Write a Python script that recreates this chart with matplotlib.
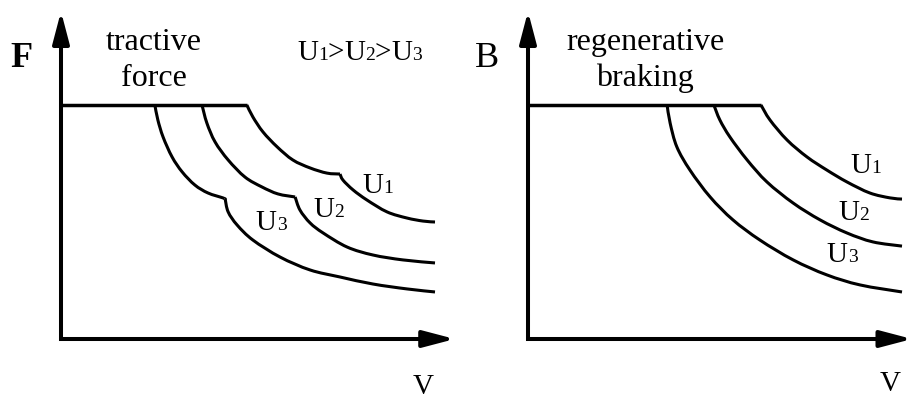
import matplotlib
matplotlib.use("Agg")
import matplotlib.pyplot as plt
import numpy as np
from matplotlib.path import Path
from matplotlib.patches import PathPatch

plt.rcParams['font.family'] = ['Liberation Serif', 'DejaVu Serif']

# tractive force characteristic (normalised v, F), kink where the field weakening starts
trac_u1_v = [0.497, 0.513, 0.540, 0.578, 0.620, 0.666, 0.711, 0.746,
             0.754, 0.781, 0.818, 0.872, 0.925, 0.968, 1.000]
trac_u1_f = [1.000, 0.949, 0.885, 0.821, 0.765, 0.731, 0.709, 0.705,
             0.679, 0.637, 0.594, 0.543, 0.517, 0.504, 0.500]
trac_u2_v = [0.377, 0.390, 0.412, 0.447, 0.492, 0.537, 0.580, 0.626,
             0.639, 0.666, 0.701, 0.765, 0.834, 0.914, 1.000]
trac_u2_f = [1.000, 0.923, 0.842, 0.765, 0.692, 0.650, 0.620, 0.607,
             0.551, 0.496, 0.453, 0.393, 0.359, 0.338, 0.325]
trac_u3_v = [0.251, 0.259, 0.273, 0.297, 0.324, 0.358, 0.393, 0.433, 0.439,
             0.447, 0.471, 0.513, 0.586, 0.666, 0.746, 0.834, 0.925, 1.000]
trac_u3_f = [1.000, 0.936, 0.863, 0.778, 0.714, 0.658, 0.624, 0.603, 0.598,
             0.543, 0.487, 0.423, 0.350, 0.295, 0.265, 0.235, 0.214, 0.201]
trac_kinks = [7, 7, 8]

# regenerative braking characteristic
brake_u1_v = [0.623, 0.647, 0.693, 0.746, 0.799, 0.853, 0.914, 0.968, 1.000]
brake_u1_f = [1.000, 0.936, 0.850, 0.778, 0.722, 0.671, 0.624, 0.603, 0.598]
brake_u2_v = [0.497, 0.513, 0.540, 0.586, 0.639, 0.709, 0.781, 0.853, 0.922, 1.000]
brake_u2_f = [1.000, 0.936, 0.863, 0.765, 0.671, 0.581, 0.509, 0.453, 0.415, 0.397]
brake_u3_v = [0.372, 0.380, 0.398, 0.433, 0.487, 0.548, 0.620, 0.709, 0.799, 0.888, 1.000]
brake_u3_f = [1.000, 0.923, 0.821, 0.722, 0.607, 0.509, 0.423, 0.338, 0.274, 0.231, 0.201]

curve_labels = ["U1", "U2", "U3"]
trac_label_pos = [(0.805, 0.624), (0.674, 0.521), (0.521, 0.466)]
brake_label_pos = [(0.861, 0.709), (0.829, 0.509), (0.799, 0.329)]

BIG = 21
SMALL = 14
LW_AX = 2.9
LW = 2.2


def smooth_path(v, f):
    # Catmull-Rom through the points, written as cubic Bezier segments
    p = np.column_stack([v, f])
    ext = np.vstack([p[0], p, p[-1]])
    verts = [p[0]]
    codes = [Path.MOVETO]
    for i in range(len(p) - 1):
        p0, p1, p2, p3 = ext[i], ext[i + 1], ext[i + 2], ext[i + 3]
        verts += [p1 + (p2 - p0) / 6, p2 - (p3 - p1) / 6, p2]
        codes += [Path.CURVE4] * 3
    return verts, codes


def draw_curve(ax, v, f, kink=None):
    pieces = [(v, f)] if kink is None else [(v[:kink + 1], f[:kink + 1]), (v[kink:], f[kink:])]
    for pv, pf in pieces:
        verts, codes = smooth_path(pv, pf)
        ax.add_patch(PathPatch(Path(verts, codes), fill=False, lw=LW, edgecolor='black',
                               joinstyle='round', capstyle='butt'))


def mixed_text(ax, x, y, text, renderer):
    # digits are set smaller but sit on the same baseline as the letters
    offset = 0.0
    for ch in text:
        size = SMALL if ch.isdigit() else BIG
        t = ax.annotate(ch, xy=(x, y), xycoords='data', xytext=(offset, 0),
                        textcoords='offset pixels', fontsize=size, va='baseline', ha='left')
        offset += t.get_window_extent(renderer).width


def draw_axes(ax, x_tip, y_tip):
    ax.plot([0, 0, x_tip - 0.05], [y_tip - 0.1, 0, 0], color='black', lw=LW_AX,
            solid_joinstyle='miter', solid_capstyle='butt')
    style = "-|>,head_length=1.6,head_width=0.42"
    ax.annotate("", xy=(0, y_tip), xytext=(0, y_tip - 0.14),
                arrowprops=dict(arrowstyle=style, lw=LW_AX, color='black',
                                shrinkA=0, shrinkB=0, mutation_scale=12))
    ax.annotate("", xy=(x_tip, 0), xytext=(x_tip - 0.09, 0),
                arrowprops=dict(arrowstyle=style, lw=LW_AX, color='black',
                                shrinkA=0, shrinkB=0, mutation_scale=12))


fig = plt.figure(figsize=(9.12, 3.99), dpi=100)
renderer = fig.canvas.get_renderer()

# left panel: origin at (61, 339) px, 374 px per unit v, 234 px per unit F
ax1 = fig.add_axes([0, 0, 456 / 912, 1])
ax1.set_xlim(-61 / 374, (456 - 61) / 374)
ax1.set_ylim((339 - 399) / 234, 339 / 234)
ax1.axis('off')

# right panel
ax2 = fig.add_axes([456 / 912, 0, 456 / 912, 1])
ax2.set_xlim((456 - 528) / 374, (912 - 528) / 374)
ax2.set_ylim((339 - 399) / 234, 339 / 234)
ax2.axis('off')

draw_axes(ax1, 1.053, 1.40)
draw_axes(ax2, 1.027, 1.40)

ax1.plot([0, trac_u1_v[0]], [1, 1], color='black', lw=LW + 0.3, solid_capstyle='butt')
for (v, f), k in zip([(trac_u1_v, trac_u1_f), (trac_u2_v, trac_u2_f), (trac_u3_v, trac_u3_f)],
                     trac_kinks):
    draw_curve(ax1, v, f, k)

ax2.plot([0, brake_u1_v[0]], [1, 1], color='black', lw=LW + 0.3, solid_capstyle='butt')
for v, f in [(brake_u1_v, brake_u1_f), (brake_u2_v, brake_u2_f), (brake_u3_v, brake_u3_f)]:
    draw_curve(ax2, v, f)

for name, (x, y) in zip(curve_labels, trac_label_pos):
    mixed_text(ax1, x, y, name, renderer)
for name, (x, y) in zip(curve_labels, brake_label_pos):
    mixed_text(ax2, x, y, name, renderer)

mixed_text(ax1, 0.631, 1.192, "U1>U2>U3", renderer)

ax1.text(-0.107, 1.197, "F", fontsize=26, fontweight='bold', ha='center', va='center')
ax1.text(0.249, 1.265, "tractive", fontsize=23, ha='center', va='center')
ax1.text(0.249, 1.115, "force", fontsize=23, ha='center', va='center')
ax1.text(0.968, -0.235, "V", fontsize=21, ha='center', va='baseline')

ax2.text(-0.110, 1.197, "B", fontsize=26, ha='center', va='center')
ax2.text(0.313, 1.265, "regenerative", fontsize=23, ha='center', va='center')
ax2.text(0.313, 1.115, "braking", fontsize=23, ha='center', va='center')
ax2.text(0.968, -0.222, "V", fontsize=21, ha='center', va='baseline')

fig.savefig("out.png", dpi=100)
